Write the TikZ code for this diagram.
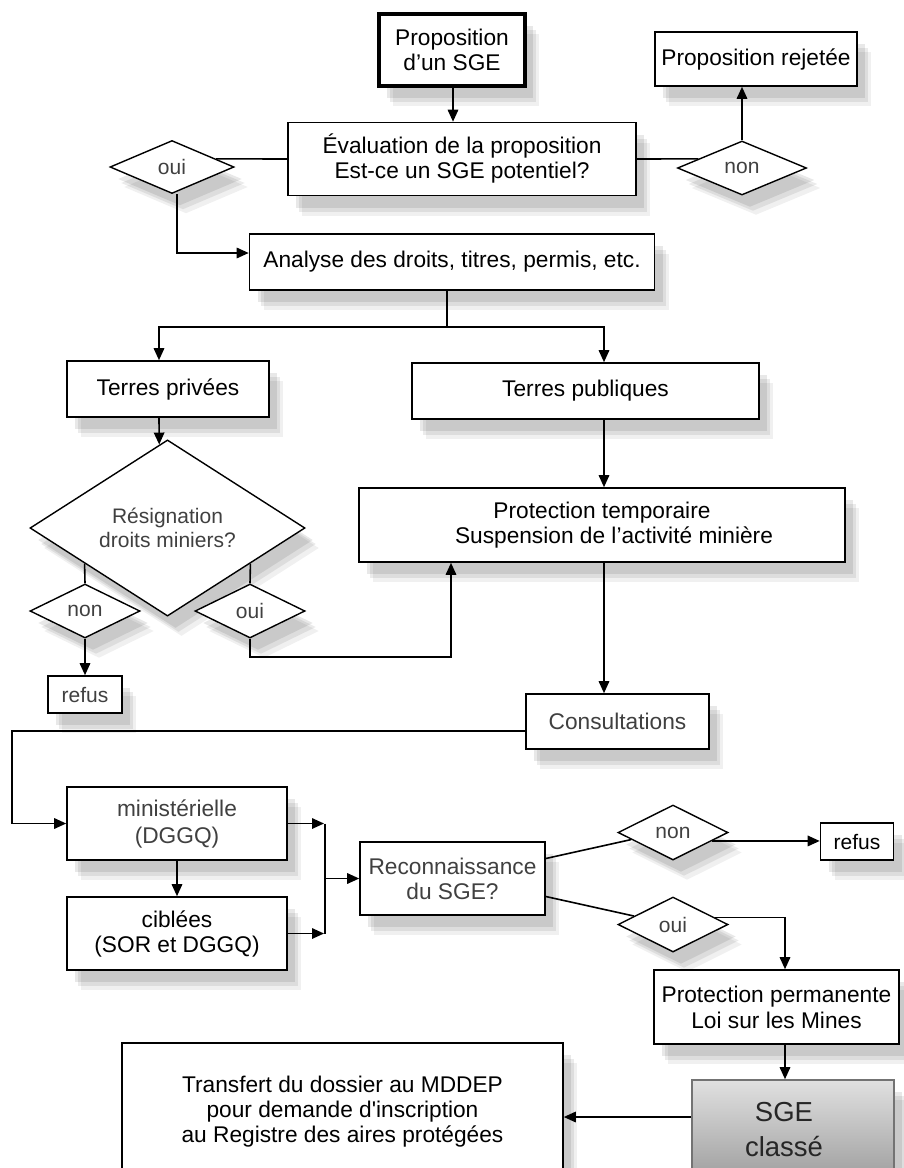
\documentclass[tikz,border=0pt]{standalone}
\usepackage{fontspec}
\setmainfont{Liberation Sans}
\usetikzlibrary{shapes.geometric,arrows.meta,shadows,calc}
\begin{document}
\begin{tikzpicture}[x=1pt,y=-1pt,
  shad/.style={
    general shadow={fill=black,opacity=.06,shadow xshift=14pt,shadow yshift=-20pt},
    general shadow={fill=black,opacity=.08,shadow xshift=11pt,shadow yshift=-16pt},
    general shadow={fill=black,opacity=.09,shadow xshift=8pt,shadow yshift=-12pt}},
  box/.style={draw=black,line width=1.6pt,fill=white,rectangle,inner sep=0pt,align=center,
    font=\fontsize{22.7}{25}\selectfont,shad},
  gbox/.style={box,text=black!75},
  dia/.style={draw=black,line width=1.4pt,fill=white,diamond,inner sep=0pt,align=center,
    font=\fontsize{21}{24}\selectfont,text=black!75,shad},
  ln/.style={line width=1.6pt,draw=black},
  arr/.style={ln,-{Triangle[length=12pt,width=10.5pt]}}
]
\useasboundingbox (0,0) rectangle (904,1168);
\clip (0,0) rectangle (904,1168);

% nodes
\node[box,line width=4.5pt,minimum width=146,minimum height=72] (prop) at (452,50) {Proposition\\d’un SGE};
\node[box,minimum width=202,minimum height=54] (rej) at (756,59) {Proposition rejetée};
\node[box,minimum width=348,minimum height=73] (eval) at (462,159) {Évaluation de la proposition\\Est-ce un SGE potentiel?};
\node[dia,minimum width=124,minimum height=53] (ouiA) at (172,167) {oui};
\node[dia,minimum width=129,minimum height=54] (nonA) at (742,168) {non};
\node[box,minimum width=405,minimum height=56] (analyse) at (452,262) {Analyse des droits, titres, permis, etc.};
\node[box,minimum width=202,minimum height=56] (tpriv) at (168,389) {Terres privées};
\node[box,minimum width=347,minimum height=56] (tpub) at (585.5,391) {Terres publiques};
\node[box,minimum width=486,minimum height=74] (ptemp) at (602,525) {Protection temporaire\\\hspace*{24pt}Suspension de l’activité minière};
\node[dia,minimum width=275,minimum height=110] (resig) at (167.5,528) {Résignation\\droits miniers?};
\node[dia,minimum width=110,minimum height=54] (nonS) at (85,611) {non};
\node[dia,minimum width=110,minimum height=54] (ouiS) at (250,611) {oui};
\node[gbox,font=\fontsize{21}{24}\selectfont,minimum width=74,minimum height=37] (refusA) at (85,694.5) {refus};
\node[gbox,minimum width=183,minimum height=55] (consult) at (617.5,721.5) {Consultations};
\node[gbox,minimum width=220,minimum height=73,font=\fontsize{22.7}{27}\selectfont] (mini) at (177,823.5) {ministérielle\\(DGGQ)};
\node[box,minimum width=220,minimum height=73] (cib) at (177,933.5) {ciblées\\(SOR et DGGQ)};
\node[gbox,minimum width=185,minimum height=73] (reco) at (452.5,878.5) {Reconnaissance\\du SGE?};
\node[dia,minimum width=110,minimum height=55] (nonB) at (673,832.5) {non};
\node[box,font=\fontsize{21}{24}\selectfont,minimum width=73,minimum height=37] (refusB) at (857,841.5) {refus};
\node[dia,minimum width=110,minimum height=55] (ouiB) at (673,924.5) {oui};
\node[box,minimum width=245,minimum height=74,font=\fontsize{22.7}{26}\selectfont] (perm) at (776.5,1007) {Protection permanente\\Loi sur les Mines};
\node[box,draw=black!55,top color=black!12,bottom color=black!38,minimum width=202,minimum height=100,
  font=\fontsize{27.5}{35}\selectfont,text=black!85] (sge) at (793,1130) {\hspace*{-18pt}SGE\\\hspace*{-18pt}classé};
\node[box,minimum width=441,minimum height=137] (transfert) at (342.5,1111.5) {Transfert du dossier au MDDEP\\pour demande d\textquotesingle inscription\\au Registre des aires protégées};

% coordinates
\coordinate (split) at (447,327);
\coordinate (sL) at (159,327);
\coordinate (sR) at (604,327);
\coordinate (bend) at (451,657);
\coordinate (lp) at (12,731);
\coordinate (jn) at (325,878.5);
\coordinate (cx) at (785,1060);
\coordinate (nbR) at ($(nonB.east)!0.3!(nonB.south)$);
\coordinate (obR) at ($(ouiB.east)!0.25!(ouiB.north)$);
\coordinate (sgeL) at ($(sge.west)+(0,-13)$);

% connectors
\draw[arr] (prop.south -| 453,0) -- (eval.north -| 453,0);
\draw[ln] (eval.west) -- ($(ouiA.east)!0.3!(ouiA.north)$);
\draw[ln] (eval.east) -- ($(nonA.west)!0.33!(nonA.north)$);
\draw[arr] (nonA.north) -- (nonA.north |- rej.south);
\draw[arr] (ouiA.south -| 177,0) |- ($(analyse.west)+(0,-9)$);
\draw[ln] (analyse.south -| split) -- (split);
\draw[arr] (split) -| (sL |- tpriv.north);
\draw[arr] (split) -| (sR |- tpub.north);
\draw[arr] (sL |- tpriv.south) -- ($(resig.north)!0.06!(resig.west)$);
\draw[arr] (sR |- tpub.south) -- (sR |- ptemp.north);
\draw[ln] (nonS.north) -- ($(resig.west)!0.4!(resig.south)$);
\draw[ln] (ouiS.north) -- ($(resig.east)!0.4!(resig.south)$);
\draw[arr] (nonS.south) -- (refusA.north);
\draw[arr] (ouiS.south) |- (bend) -- (bend |- ptemp.south);
\draw[arr] (sR |- ptemp.south) -- (sR |- consult.north);
\draw[arr] (consult.west |- lp) -- (lp) |- (mini.west);
\draw[arr] (mini.south) -- (cib.north);
\draw[arr] (mini.east) -- ($(mini.east -| jn)+(-1,0)$);
\draw[arr] (cib.east) -- ($(cib.east -| jn)+(-1,0)$);
\draw[ln] (mini.east -| jn) -- (cib.east -| jn);
\draw[arr] (jn) -- (reco.west);
\draw[ln] ($(reco.east)+(0,-20)$) -- ($(nonB.west)!0.25!(nonB.south)$);
\draw[ln] ($(reco.east)+(0,18)$) -- ($(ouiB.west)!0.3!(ouiB.north)$);
\draw[arr] (nbR) -- (nbR -| refusB.west);
\draw[arr] (obR) -| (cx |- perm.north);
\draw[arr] (cx |- perm.south) -- (cx |- sge.north);
\draw[arr] (sgeL) -- (sgeL -| transfert.east);
\end{tikzpicture}
\end{document}
